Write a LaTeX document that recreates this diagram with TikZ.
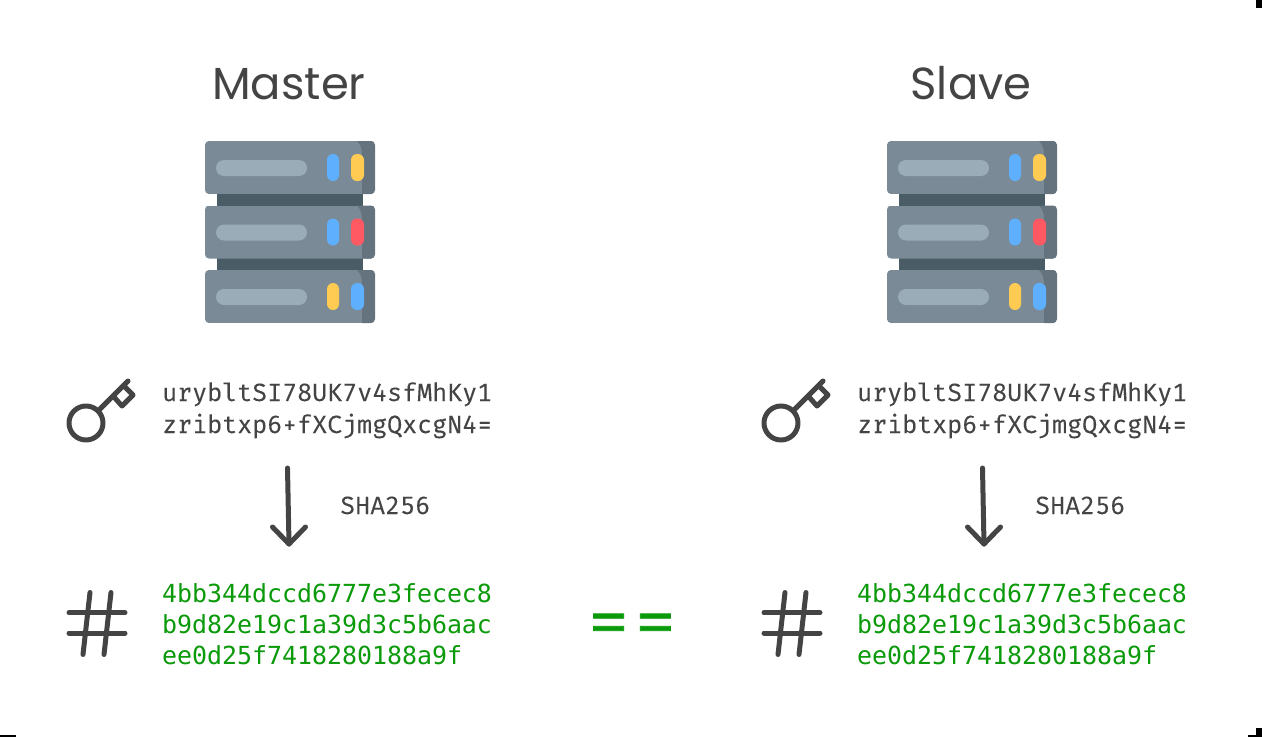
\documentclass[tikz,border=0pt]{standalone}
\usepackage{fontspec}
\setmainfont{Poppins}
\newfontfamily\monofam[FakeBold=0.2]{Fira Mono}
\newfontfamily\hashfam{DejaVu Sans Mono}
\newfontfamily\eqfam[LetterSpace=8.3,FakeBold=1.5]{Poppins}
\definecolor{ink}{HTML}{444444}
\definecolor{okgreen}{HTML}{0A9A0A}
\definecolor{srvbody}{HTML}{7A8B97}
\definecolor{srvside}{HTML}{64737E}
\definecolor{srvlink}{HTML}{4A5C66}
\definecolor{srvbar}{HTML}{9BACB9}
\definecolor{ledblue}{HTML}{5EB0FF}
\definecolor{ledyellow}{HTML}{FFCB52}
\definecolor{ledred}{HTML}{FF5A64}
\tikzset{
  titletext/.style={anchor=base,text=ink,font=\fontsize{44.9}{50}\selectfont},
  keytext/.style={anchor=base west,text=ink,inner sep=0pt,font=\monofam\fontsize{25}{30}\selectfont},
  hashtext/.style={anchor=base west,text=okgreen,inner sep=0pt,font=\hashfam\fontsize{24.9}{30}\selectfont},
  icon/.style={draw=ink,line width=5pt,line cap=round,line join=round},
  flow/.style={draw=ink,line width=5pt,line cap=round,line join=round},
}
\newcommand{\srvrow}[3]{%
  \begin{scope}
    \clip[rounded corners=4pt] (205,#1) rectangle (375,#1+53);
    \fill[srvbody] (205,#1) rectangle (375,#1+53);
    \fill[srvside] (357,#1) .. controls (361,#1+4) and (362,#1+8) .. (362,#1+14) -- (362,#1+53) -- (375,#1+53) -- (375,#1) -- cycle;
  \end{scope}
  \fill[srvbar,rounded corners=8pt] (216,#1+19) rectangle (307,#1+35);
  \fill[#2,rounded corners=6pt] (327,#1+13) rectangle (339,#1+40);
  \fill[#3,rounded corners=6pt] (351,#1+13) rectangle (364,#1+40);
}
\newcommand{\serverfig}{%
  \fill[srvlink] (217,190) rectangle (363,275);
  \srvrow{141}{ledblue}{ledyellow}
  \srvrow{205.5}{ledblue}{ledred}
  \srvrow{270}{ledyellow}{ledblue}
}
\newcommand{\keyfig}{%
  \draw[icon] (86,423) circle (17);
  \draw[icon] (99,410) -- (128,381);
  \draw[icon] (114,397) -- (122,406) -- (133,395) -- (124,386);
}
\newcommand{\hashfig}{%
  \draw[icon] (90,592.5) -- (83,654.5);
  \draw[icon] (111,592.5) -- (104,654.5);
  \draw[icon] (69,612.7) -- (125,612.7);
  \draw[icon] (69,633) -- (125,633);
}
\begin{document}
\begin{tikzpicture}[x=1pt,y=-1pt]
\useasboundingbox (0,0) rectangle (1262,737);
\fill[white] (0,0) rectangle (1262,737);
% corner marks
\fill[black] (1256,0) rectangle (1262,8);
\fill[black] (1256,728) rectangle (1262,737);
\fill[black] (1248,735) rectangle (1256,737);
\fill[black] (0,735) rectangle (16,737);

% Master
\node[titletext] (mastertitle) at (289,99) {Master};
\serverfig
\keyfig
\node[keytext] (mkey1) at (162,401) {urybltSI78UK7v4sfMhKy1};
\node[keytext] (mkey2) at (162,433) {zribtxp6+fXCjmgQxcgN4=};
\coordinate (ma) at (287.5,468);
\coordinate (mb) at (289,544);
\coordinate (mc) at (272.5,527);
\coordinate (md) at (305.5,527);
\draw[flow] (ma) -- (mb);
\draw[flow] (mc) -- (mb) -- (md);
\node[keytext] (msha) at (340,514) {SHA256};
\hashfig
\node[hashtext] (mh1) at (162,602) {4bb344dccd6777e3fecec8};
\node[hashtext] (mh2) at (162,633) {b9d82e19c1a39d3c5b6aac};
\node[hashtext] (mh3) at (162,664) {ee0d25f7418280188a9f};

% equals
\node[anchor=base west,text=okgreen,inner sep=0pt,font=\eqfam\fontsize{58}{58}\selectfont] (eq) at (587.5,643.5) {==};

% Slave
\node[titletext] (slavetitle) at (971,99) {Slave};
\begin{scope}[xshift=682pt]\serverfig\end{scope}
\begin{scope}[xshift=695pt]\keyfig\hashfig
\coordinate (sa) at (287.5,468);
\coordinate (sb) at (289,544);
\coordinate (sc) at (272.5,527);
\coordinate (sd) at (305.5,527);
\draw[flow] (sa) -- (sb);
\draw[flow] (sc) -- (sb) -- (sd);
\end{scope}
\node[keytext] (skey1) at (857,401) {urybltSI78UK7v4sfMhKy1};
\node[keytext] (skey2) at (857,433) {zribtxp6+fXCjmgQxcgN4=};
\node[keytext] (ssha) at (1035,514) {SHA256};
\node[hashtext] (sh1) at (857,602) {4bb344dccd6777e3fecec8};
\node[hashtext] (sh2) at (857,633) {b9d82e19c1a39d3c5b6aac};
\node[hashtext] (sh3) at (857,664) {ee0d25f7418280188a9f};
\end{tikzpicture}
\end{document}
